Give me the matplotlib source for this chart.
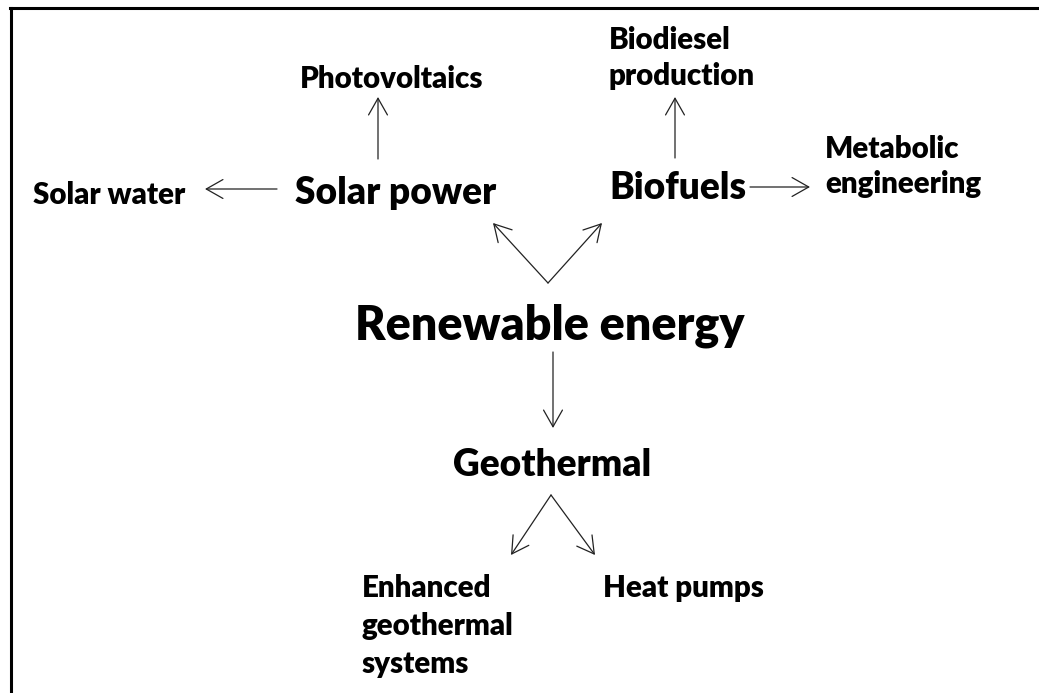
import matplotlib
matplotlib.use('Agg')
import matplotlib.pyplot as plt
from matplotlib.lines import Line2D

plt.rcParams['font.family'] = ['Lato', 'DejaVu Sans']

W, H = 1039, 693

# label lines: text, left x, baseline y, size group
labels = ['Photovoltaics', 'Biodiesel', 'production', 'Solar water', 'Solar power',
          'Biofuels', 'Metabolic', 'engineering', 'Renewable energy', 'Geothermal',
          'Enhanced', 'geothermal', 'systems', 'Heat pumps']
label_x = [300, 609, 609, 33, 295, 609, 825, 825, 355, 453, 362, 362, 362, 603]
label_y = [88, 49, 85, 204, 204, 199, 158, 193, 340, 476, 597, 635, 673, 597]
label_size = ['small', 'small', 'small', 'small', 'medium', 'medium', 'small', 'small',
              'large', 'medium', 'small', 'small', 'small', 'small']

# reference word and its width in pixels for each size group
size_ref = {'small': ('Photovoltaics', 184), 'medium': ('Geothermal', 198),
            'large': ('Renewable energy', 390)}

# arrows: tail -> head
arrow_from = [(378, 159), (277, 189), (675, 158), (750, 187), (548, 283),
              (548, 283), (553, 352), (551, 495), (551, 495)]
arrow_to = [(378, 97), (205, 189), (675, 97), (810, 187), (493, 223),
            (602, 223), (553, 428), (511, 555), (595, 555)]

fig = plt.figure(figsize=(W / 100, H / 100), dpi=100)
ax = fig.add_axes([0, 0, 1, 1])
ax.set_xlim(0, W)
ax.set_ylim(H, 0)
ax.axis('off')

renderer = fig.canvas.get_renderer()
font_sizes = {}
for group, (word, target) in size_ref.items():
    t = ax.text(0, 0, word, fontsize=20, fontweight='heavy')
    w = t.get_window_extent(renderer).width
    font_sizes[group] = 20 * target / w
    t.remove()

for txt, x, y, g in zip(labels, label_x, label_y, label_size):
    ax.text(x, y, txt, fontsize=font_sizes[g], fontweight='heavy', color='black',
            ha='left', va='baseline')

for a, b in zip(arrow_from, arrow_to):
    ax.annotate('', xy=b, xytext=a,
                arrowprops=dict(arrowstyle='->,head_length=0.6,head_width=0.34',
                                mutation_scale=20, lw=0.9, color='#222222',
                                shrinkA=0, shrinkB=0))

# frame: top and left edges only
ax.add_line(Line2D([10, W], [8, 8], color='black', lw=2.2))
ax.add_line(Line2D([11, 11], [8, H], color='black', lw=2.2))

fig.savefig('out.png', dpi=100)
